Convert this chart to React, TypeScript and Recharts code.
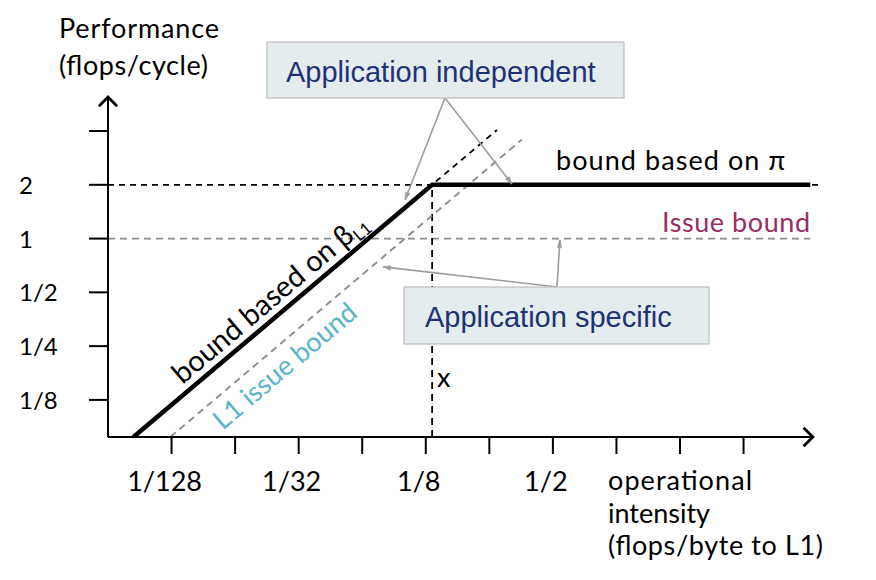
import { ComposedChart, Line, XAxis, YAxis, ReferenceLine, ReferenceDot } from 'recharts'

// both axes are log2: -7 means 1/128, 1 means 2, etc.
const X_TICKS = [-7, -6, -5, -4, -3, -2, -1, 0, 1, 2]
const X_LABELED = [-7, -5, -3, -1]
const X_LABEL_TEXT = ['1/128', '1/32', '1/8', '1/2']

const Y_TICKS = [-3, -2, -1, 0, 1, 2]
const Y_LABELED = [-3, -2, -1, 0, 1]
const Y_LABEL_TEXT = ['1/8', '1/4', '1/2', '1', '2']

const X_DOMAIN = [-8, 3.25]
const Y_DOMAIN = [-3.69, 2.633]
const X_AXIS_END = 3.09

// roofline: memory bound slope then flat compute bound
const ROOF_X = [-7.6, -2.9, 3.05]
const ROOF_Y = [-3.69, 1, 1]
// dashed continuation of the beta slope
const BETA_X = [-7.6, -1.88]
const BETA_Y = [-3.69, 2.02]
// L1 issue bound (gray dashed diagonal)
const L1_X = [-7.02, -1.49]
const L1_Y = [-3.69, 1.84]

const PEAK = 1
const PEAK_END = 3.2
const ISSUE = 0
const ISSUE_END = 3.05
const RIDGE_X = -2.9

// callouts: [fromX, fromY, toX, toY]
const INDEP_ARROWS = [
  [-2.698, 2.615, -3.327, 0.719],
  [-2.698, 2.615, -1.644, 1.016],
]
const SPECIFIC_ARROWS = [
  [-0.936, -0.899, -0.889, -0.025],
  [-0.936, -0.899, -3.673, -0.527],
]

const BETA_LABEL_AT = [-5.27, -1.36]
const L1_LABEL_AT = [-5.42, -2.09]

const toPts = (xs: number[], ys: number[]) => xs.map((x, i) => ({ x, y: ys[i] }))

const FONT = 'Lato, "Open Sans", sans-serif'
const SLOPE_DEG = 40.24

function arrowShape(color: string, width: number, head: number, spread: number, open: boolean) {
  return (p: any) => {
    const { x1, y1, x2, y2 } = p
    const a = Math.atan2(y2 - y1, x2 - x1)
    const ax = x2 - head * Math.cos(a - spread)
    const ay = y2 - head * Math.sin(a - spread)
    const bx = x2 - head * Math.cos(a + spread)
    const by = y2 - head * Math.sin(a + spread)
    return (
      <g>
        <line x1={x1} y1={y1} x2={x2} y2={y2} stroke={color} strokeWidth={width} />
        {open ? (
          <polyline points={`${ax},${ay} ${x2},${y2} ${bx},${by}`} fill="none" stroke={color} strokeWidth={width + 0.8} />
        ) : (
          <polygon points={`${ax},${ay} ${x2},${y2} ${bx},${by}`} fill={color} stroke={color} strokeWidth={0.5} />
        )}
      </g>
    )
  }
}

const axisArrow = arrowShape('#000', 2, 13, 0.78, true)
const callout = arrowShape('#9c9c9c', 1.6, 8, 0.3, false)

function XTick({ x, y, payload }: any) {
  const i = X_LABELED.indexOf(payload.value)
  if (i < 0) return null
  return (
    <text x={x - 7} y={y + 35} textAnchor="middle" fontSize={27} fill="#000" fontFamily={FONT}>
      {X_LABEL_TEXT[i]}
    </text>
  )
}

function YTick({ x, y, payload }: any) {
  const i = Y_LABELED.indexOf(payload.value)
  if (i < 0) return null
  return (
    <text x={x - 68} y={y + 9} textAnchor="start" fontSize={24} fill="#000" fontFamily={FONT}>
      {Y_LABEL_TEXT[i]}
    </text>
  )
}

function BetaLabel({ cx, cy }: any) {
  return (
    <text transform={`translate(${cx},${cy}) rotate(-${SLOPE_DEG})`} y={-8} textAnchor="middle" fontSize={29} fill="#000" fontFamily={FONT}>
      bound based on β<tspan fontSize={17} dy={5}>L1</tspan>
    </text>
  )
}

function L1Label({ cx, cy }: any) {
  return (
    <text transform={`translate(${cx},${cy}) rotate(-${SLOPE_DEG})`} y={29} textAnchor="middle" fontSize={27} fill="#5bb4c9" fontFamily={FONT}>
      L1 issue bound
    </text>
  )
}

export default function App() {
  return (
    <div style={{ position: 'relative', width: 860, height: 564, fontFamily: FONT }}>
      <ComposedChart width={860} height={564} margin={{ top: 89, right: 45, bottom: 75, left: 0 }}>
        <XAxis
          type="number"
          dataKey="x"
          domain={X_DOMAIN}
          ticks={X_TICKS}
          allowDataOverflow
          height={60}
          tickSize={17}
          axisLine={false}
          tickLine={{ stroke: '#000', strokeWidth: 2 }}
          tick={<XTick />}
          interval={0}
        />
        <YAxis
          type="number"
          dataKey="y"
          domain={Y_DOMAIN}
          ticks={Y_TICKS}
          allowDataOverflow
          width={100}
          tickSize={19}
          axisLine={false}
          tickLine={{ stroke: '#000', strokeWidth: 2 }}
          tick={<YTick />}
          interval={0}
        />

        <ReferenceLine segment={[{ x: X_DOMAIN[0], y: PEAK }, { x: PEAK_END, y: PEAK }]} stroke="#000" strokeWidth={1.8} strokeDasharray="6 5" ifOverflow="visible" />
        <ReferenceLine segment={[{ x: X_DOMAIN[0], y: ISSUE }, { x: ISSUE_END, y: ISSUE }]} stroke="#8c8c8c" strokeWidth={1.8} strokeDasharray="7 5" ifOverflow="visible" />
        <ReferenceLine segment={[{ x: RIDGE_X, y: Y_DOMAIN[0] }, { x: RIDGE_X, y: PEAK }]} stroke="#000" strokeWidth={1.8} strokeDasharray="7 5" ifOverflow="visible" />

        <Line data={toPts(L1_X, L1_Y)} dataKey="y" type="linear" stroke="#8c8c8c" strokeWidth={1.8} strokeDasharray="7 5" dot={false} isAnimationActive={false} />
        <Line data={toPts(BETA_X, BETA_Y)} dataKey="y" type="linear" stroke="#000" strokeWidth={1.8} strokeDasharray="6 5" dot={false} isAnimationActive={false} />
        <Line data={toPts(ROOF_X, ROOF_Y)} dataKey="y" type="linear" stroke="#000" strokeWidth={4.5} dot={false} isAnimationActive={false} />

        <ReferenceLine segment={[{ x: X_DOMAIN[0], y: Y_DOMAIN[0] }, { x: X_AXIS_END, y: Y_DOMAIN[0] }]} stroke="#000" ifOverflow="visible" shape={axisArrow} />
        <ReferenceLine segment={[{ x: X_DOMAIN[0], y: Y_DOMAIN[0] }, { x: X_DOMAIN[0], y: Y_DOMAIN[1] }]} stroke="#000" ifOverflow="visible" shape={axisArrow} />

        {INDEP_ARROWS.concat(SPECIFIC_ARROWS).map((a, i) => (
          <ReferenceLine key={i} segment={[{ x: a[0], y: a[1] }, { x: a[2], y: a[3] }]} ifOverflow="visible" shape={callout} />
        ))}

        <ReferenceDot x={BETA_LABEL_AT[0]} y={BETA_LABEL_AT[1]} r={0} ifOverflow="visible" shape={<BetaLabel />} />
        <ReferenceDot x={L1_LABEL_AT[0]} y={L1_LABEL_AT[1]} r={0} ifOverflow="visible" shape={<L1Label />} />
      </ComposedChart>

      <svg width={860} height={564} style={{ position: 'absolute', left: 0, top: 0, pointerEvents: 'none' }}>
        <g fontFamily={FONT} fill="#000" fontSize={27}>
          <text x={51} y={30} textLength={160}>Performance</text>
          <text x={51} y={67} textLength={149}>(flops/cycle)</text>
          <text x={548} y={162} textLength={229}>bound based on π</text>
          <text x={654} y={224} textLength={148} fill="#9a2c62">Issue bound</text>
          <text x={429} y={379} fontSize={27}>x</text>
          <text x={600} y={482} textLength={144}>operational</text>
          <text x={600} y={515} textLength={102}>intensity</text>
          <text x={600} y={547} textLength={215}>(flops/byte to L1)</text>
        </g>
        <g fontFamily='"Liberation Sans", Arial, sans-serif' fontSize={29} fill="#1e3275">
          <rect x={259} y={34} width={357} height={56} fill="#e4ecee" stroke="#bdbdbd" strokeWidth={1.2} />
          <text x={278} y={74}>Application independent</text>
          <rect x={396} y={279} width={305} height={57} fill="#e4ecee" stroke="#bdbdbd" strokeWidth={1.2} />
          <text x={417} y={319}>Application specific</text>
        </g>
      </svg>
    </div>
  )
}
